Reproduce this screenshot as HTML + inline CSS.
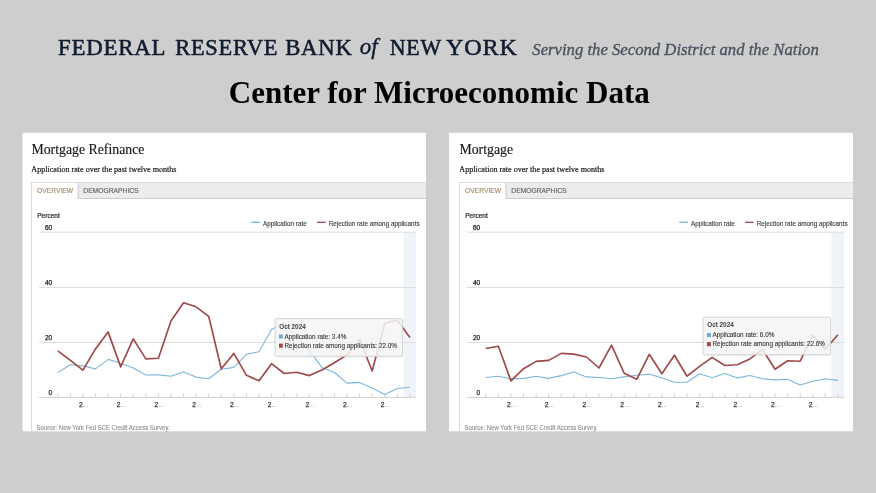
<!DOCTYPE html>
<html><head><meta charset="utf-8"><title>Center for Microeconomic Data</title>
<style>
html,body{margin:0;padding:0;background:#cecece;}
body{width:876px;height:493px;overflow:hidden;}
svg{display:block;will-change:transform;}
text{font-family:"Liberation Sans",sans-serif;}
.fr{font-family:"Liberation Serif",serif;font-size:23px;letter-spacing:0.8px;fill:#101c30;stroke:#101c30;stroke-width:0.55px;}
.fri{font-family:"Liberation Serif",serif;font-style:italic;font-size:23px;fill:#101c30;stroke:#101c30;stroke-width:0.45px;}
.srv{font-family:"Liberation Serif",serif;font-style:italic;font-size:16.7px;fill:#4a5460;stroke:#4a5460;stroke-width:0.35px;}
.cmd{font-family:"Liberation Serif",serif;font-weight:bold;font-size:31px;fill:#000;}
.ttl{font-family:"Liberation Serif",serif;font-size:13.8px;fill:#1a1a1a;stroke:#1a1a1a;stroke-width:0.15px;}
.sub{font-family:"Liberation Serif",serif;font-size:8.1px;fill:#1a1a1a;stroke:#1a1a1a;stroke-width:0.2px;}
.tab{font-size:7.2px;stroke-width:0.15px;}
.pct{font-size:6.7px;fill:#222;stroke:#222;stroke-width:0.2px;}
.yl{font-size:6.5px;fill:#222;stroke:#222;stroke-width:0.25px;}
.xl{font-size:6.6px;fill:#333;stroke:#333;stroke-width:0.25px;}
.lg{font-size:6.8px;fill:#444;stroke:#444;stroke-width:0.15px;}
.tt{font-size:6.36px;fill:#3a3a3a;stroke:#3a3a3a;stroke-width:0.12px;}
.src{font-size:6.3px;fill:#8a8a8a;stroke:#8a8a8a;stroke-width:0.1px;}
</style></head>
<body><svg width="876" height="493" viewBox="0 0 876 493">
<rect width="876" height="493" fill="#cecece"/>
<text x="58.0" y="54.6" class="fr" textLength="108.3" lengthAdjust="spacingAndGlyphs">FEDERAL</text>
<text x="175.2" y="54.6" class="fr" textLength="103.1" lengthAdjust="spacingAndGlyphs">RESERVE</text>
<text x="285.2" y="54.6" class="fr" textLength="67.5" lengthAdjust="spacingAndGlyphs">BANK</text>
<text x="389.8" y="54.6" class="fr" textLength="52.0" lengthAdjust="spacingAndGlyphs">NEW</text>
<text x="446.0" y="54.6" class="fr" textLength="71.8" lengthAdjust="spacingAndGlyphs">YORK</text>
<text x="359.8" y="54.3" class="fri">of</text>
<text x="532.3" y="54.7" class="srv">Serving the Second District and the Nation</text>
<text x="439.3" y="102.5" class="cmd" text-anchor="middle">Center for Microeconomic Data</text>
<rect x="22.5" y="132.8" width="403.5" height="298.5" fill="#fff"/>
<text x="31.4" y="153.8" class="ttl">Mortgage Refinance</text>
<text x="31.3" y="171.5" class="sub">Application rate over the past twelve months</text>
<rect x="78" y="182.4" width="348" height="16.1" fill="#ececec"/>
<path d="M31.5 431.2V182.5H426" fill="none" stroke="#dadada" stroke-width="1"/>
<path d="M78 182.5V198.5H426" fill="none" stroke="#cccccc" stroke-width="1"/>
<text x="37" y="192.8" class="tab" fill="#a58d68" stroke="#a58d68" stroke-width="0.05" textLength="36.2" lengthAdjust="spacingAndGlyphs">OVERVIEW</text>
<text x="83.3" y="192.8" class="tab" fill="#636363" stroke="#636363" textLength="55.3" lengthAdjust="spacingAndGlyphs">DEMOGRAPHICS</text>
<text x="37.2" y="217.8" class="pct" textLength="22.6" lengthAdjust="spacingAndGlyphs">Percent</text>
<rect x="403.6" y="232.2" width="12.7" height="165.2" fill="#f0f3f9"/>
<line x1="39" x2="416.3" y1="232.2" y2="232.2" stroke="#dcdcdc" stroke-width="1"/>
<line x1="39" x2="416.3" y1="287.4" y2="287.4" stroke="#dcdcdc" stroke-width="1"/>
<line x1="39" x2="416.3" y1="342.5" y2="342.5" stroke="#dcdcdc" stroke-width="1"/>
<text x="52.2" y="229.6" class="yl" text-anchor="end">60</text>
<text x="52.2" y="284.8" class="yl" text-anchor="end">40</text>
<text x="52.2" y="339.9" class="yl" text-anchor="end">20</text>
<text x="52.2" y="394.8" class="yl" text-anchor="end">0</text>
<line x1="39" x2="416.3" y1="397.4" y2="397.4" stroke="#d0d0d0" stroke-width="1"/>
<path d="M57.80 393.2V397M70.38 393.2V397M82.95 393.2V397M95.52 393.2V397M108.10 393.2V397M120.67 393.2V397M133.25 393.2V397M145.82 393.2V397M158.40 393.2V397M170.97 393.2V397M183.55 393.2V397M196.12 393.2V397M208.70 393.2V397M221.27 393.2V397M233.85 393.2V397M246.43 393.2V397M259.00 393.2V397M271.57 393.2V397M284.15 393.2V397M296.72 393.2V397M309.30 393.2V397M321.88 393.2V397M334.45 393.2V397M347.02 393.2V397M359.60 393.2V397M372.18 393.2V397M384.75 393.2V397M397.32 393.2V397M409.90 393.2V397" stroke="#d4d4d4" stroke-width="1"/>
<text x="79.05" y="406.9" class="xl">2<tspan style="fill:#3a3a3a;stroke:none;font-size:5.6px">…</tspan></text>
<text x="116.77" y="406.9" class="xl">2<tspan style="fill:#3a3a3a;stroke:none;font-size:5.6px">…</tspan></text>
<text x="154.50" y="406.9" class="xl">2<tspan style="fill:#3a3a3a;stroke:none;font-size:5.6px">…</tspan></text>
<text x="192.22" y="406.9" class="xl">2<tspan style="fill:#3a3a3a;stroke:none;font-size:5.6px">…</tspan></text>
<text x="229.95" y="406.9" class="xl">2<tspan style="fill:#3a3a3a;stroke:none;font-size:5.6px">…</tspan></text>
<text x="267.68" y="406.9" class="xl">2<tspan style="fill:#3a3a3a;stroke:none;font-size:5.6px">…</tspan></text>
<text x="305.40" y="406.9" class="xl">2<tspan style="fill:#3a3a3a;stroke:none;font-size:5.6px">…</tspan></text>
<text x="343.12" y="406.9" class="xl">2<tspan style="fill:#3a3a3a;stroke:none;font-size:5.6px">…</tspan></text>
<text x="380.85" y="406.9" class="xl">2<tspan style="fill:#3a3a3a;stroke:none;font-size:5.6px">…</tspan></text>
<line x1="251.2" x2="259.9" y1="222.3" y2="222.3" stroke="#7cb5dc" stroke-width="1.3"/>
<text x="263" y="225.6" class="lg" textLength="43.7" lengthAdjust="spacingAndGlyphs">Application rate</text>
<line x1="317" x2="325.7" y1="222.3" y2="222.3" stroke="#a84848" stroke-width="1.3"/>
<text x="328.7" y="225.6" class="lg" textLength="90.9" lengthAdjust="spacingAndGlyphs">Rejection rate among applicants</text>
<polyline points="57.80,372.60 70.38,364.70 82.95,365.90 95.52,368.90 108.10,359.40 120.67,363.20 133.25,368.10 145.82,375.00 158.40,374.90 170.97,376.30 183.55,371.90 196.12,377.10 208.70,378.80 221.27,369.20 233.85,367.40 246.43,354.30 259.00,351.80 271.57,329.50 284.15,322.20 296.72,336.30 309.30,350.40 321.88,367.40 334.45,372.50 347.02,383.10 359.60,382.40 372.18,388.10 384.75,394.50 397.32,388.50 409.90,387.20" fill="none" stroke="#7db6da" stroke-width="1.1" stroke-linejoin="round"/>
<polyline points="57.80,350.90 70.38,360.40 82.95,370.20 95.52,348.90 108.10,331.90 120.67,366.90 133.25,338.90 145.82,358.90 158.40,358.30 170.97,321.00 183.55,302.80 196.12,306.80 208.70,316.30 221.27,368.80 233.85,353.40 246.43,375.30 259.00,380.80 271.57,363.70 284.15,373.50 296.72,372.30 309.30,375.60 321.88,370.00 334.45,362.80 347.02,354.90 359.60,339.50 372.18,371.00 384.75,323.40 397.32,320.30 409.90,337.40" fill="none" stroke="#a04848" stroke-width="1.65" stroke-linejoin="round"/>
<rect x="275.6" y="319.7" width="127.5" height="37.6" rx="1.5" fill="#000" opacity="0.07"/>
<rect x="275.1" y="318.7" width="127.5" height="37.6" rx="1.5" fill="#f7f7f7" fill-opacity="0.85" stroke="#d2d2d2" stroke-width="1"/>
<text x="279.2" y="328.8" class="tt" font-weight="bold" style="fill:#4a4a4a;stroke:#4a4a4a;stroke-width:0.05px">Oct 2024</text>
<rect x="279" y="334.5" width="3.8" height="4.1" fill="#6aaad6"/>
<text x="284.5" y="338.6" class="tt">Application rate: 3.4%</text>
<rect x="279" y="343.6" width="3.8" height="4.1" fill="#a54545"/>
<text x="284.5" y="347.7" class="tt">Rejection rate among applicants: 22.0%</text>
<text x="36.6" y="429.7" class="src" textLength="133" lengthAdjust="spacingAndGlyphs">Source: New York Fed SCE Credit Access Survey.</text>
<rect x="449" y="132.8" width="404" height="298.5" fill="#fff"/>
<text x="459.4" y="153.8" class="ttl">Mortgage</text>
<text x="459.3" y="171.5" class="sub">Application rate over the past twelve months</text>
<rect x="506" y="182.4" width="347" height="16.1" fill="#ececec"/>
<path d="M459.5 431.2V182.5H853" fill="none" stroke="#dadada" stroke-width="1"/>
<path d="M506 182.5V198.5H853" fill="none" stroke="#cccccc" stroke-width="1"/>
<text x="465" y="192.8" class="tab" fill="#a58d68" stroke="#a58d68" stroke-width="0.05" textLength="36.2" lengthAdjust="spacingAndGlyphs">OVERVIEW</text>
<text x="511.3" y="192.8" class="tab" fill="#636363" stroke="#636363" textLength="55.3" lengthAdjust="spacingAndGlyphs">DEMOGRAPHICS</text>
<text x="465.2" y="217.8" class="pct" textLength="22.6" lengthAdjust="spacingAndGlyphs">Percent</text>
<rect x="831.6" y="232.2" width="12.7" height="165.2" fill="#f0f3f9"/>
<line x1="467" x2="844.3" y1="232.2" y2="232.2" stroke="#dcdcdc" stroke-width="1"/>
<line x1="467" x2="844.3" y1="287.4" y2="287.4" stroke="#dcdcdc" stroke-width="1"/>
<line x1="467" x2="844.3" y1="342.5" y2="342.5" stroke="#dcdcdc" stroke-width="1"/>
<text x="480.2" y="229.6" class="yl" text-anchor="end">60</text>
<text x="480.2" y="284.8" class="yl" text-anchor="end">40</text>
<text x="480.2" y="339.9" class="yl" text-anchor="end">20</text>
<text x="480.2" y="394.8" class="yl" text-anchor="end">0</text>
<line x1="467" x2="844.3" y1="397.4" y2="397.4" stroke="#d0d0d0" stroke-width="1"/>
<path d="M485.80 393.2V397M498.38 393.2V397M510.95 393.2V397M523.52 393.2V397M536.10 393.2V397M548.67 393.2V397M561.25 393.2V397M573.83 393.2V397M586.40 393.2V397M598.98 393.2V397M611.55 393.2V397M624.12 393.2V397M636.70 393.2V397M649.27 393.2V397M661.85 393.2V397M674.42 393.2V397M687.00 393.2V397M699.58 393.2V397M712.15 393.2V397M724.73 393.2V397M737.30 393.2V397M749.88 393.2V397M762.45 393.2V397M775.02 393.2V397M787.60 393.2V397M800.17 393.2V397M812.75 393.2V397M825.33 393.2V397M837.90 393.2V397" stroke="#d4d4d4" stroke-width="1"/>
<text x="507.05" y="406.9" class="xl">2<tspan style="fill:#3a3a3a;stroke:none;font-size:5.6px">…</tspan></text>
<text x="544.77" y="406.9" class="xl">2<tspan style="fill:#3a3a3a;stroke:none;font-size:5.6px">…</tspan></text>
<text x="582.50" y="406.9" class="xl">2<tspan style="fill:#3a3a3a;stroke:none;font-size:5.6px">…</tspan></text>
<text x="620.23" y="406.9" class="xl">2<tspan style="fill:#3a3a3a;stroke:none;font-size:5.6px">…</tspan></text>
<text x="657.95" y="406.9" class="xl">2<tspan style="fill:#3a3a3a;stroke:none;font-size:5.6px">…</tspan></text>
<text x="695.68" y="406.9" class="xl">2<tspan style="fill:#3a3a3a;stroke:none;font-size:5.6px">…</tspan></text>
<text x="733.40" y="406.9" class="xl">2<tspan style="fill:#3a3a3a;stroke:none;font-size:5.6px">…</tspan></text>
<text x="771.12" y="406.9" class="xl">2<tspan style="fill:#3a3a3a;stroke:none;font-size:5.6px">…</tspan></text>
<text x="808.85" y="406.9" class="xl">2<tspan style="fill:#3a3a3a;stroke:none;font-size:5.6px">…</tspan></text>
<line x1="679.2" x2="687.9" y1="222.3" y2="222.3" stroke="#7cb5dc" stroke-width="1.3"/>
<text x="691" y="225.6" class="lg" textLength="43.7" lengthAdjust="spacingAndGlyphs">Application rate</text>
<line x1="745" x2="753.7" y1="222.3" y2="222.3" stroke="#a84848" stroke-width="1.3"/>
<text x="756.7" y="225.6" class="lg" textLength="90.9" lengthAdjust="spacingAndGlyphs">Rejection rate among applicants</text>
<polyline points="485.80,377.50 498.38,376.20 510.95,378.90 523.52,378.40 536.10,376.20 548.67,378.40 561.25,375.60 573.83,372.00 586.40,376.90 598.98,377.50 611.55,378.70 624.12,376.90 636.70,375.30 649.27,374.10 661.85,378.10 674.42,382.30 687.00,382.30 699.58,373.80 712.15,377.70 724.73,373.60 737.30,377.90 749.88,375.50 762.45,378.70 775.02,379.90 787.60,379.20 800.17,385.00 812.75,381.30 825.33,378.70 837.90,380.40" fill="none" stroke="#7db6da" stroke-width="1.1" stroke-linejoin="round"/>
<polyline points="485.80,348.50 498.38,346.20 510.95,380.90 523.52,368.70 536.10,361.40 548.67,360.40 561.25,353.40 573.83,354.10 586.40,357.00 598.98,368.00 611.55,345.20 624.12,373.20 636.70,379.30 649.27,354.30 661.85,373.80 674.42,355.30 687.00,376.20 699.58,366.30 712.15,357.40 724.73,365.50 737.30,364.80 749.88,358.90 762.45,349.30 775.02,369.30 787.60,360.80 800.17,361.20 812.75,335.20 825.33,349.30 837.90,334.70" fill="none" stroke="#a04848" stroke-width="1.65" stroke-linejoin="round"/>
<rect x="703.6" y="318.2" width="127.5" height="37.6" rx="1.5" fill="#000" opacity="0.07"/>
<rect x="703.1" y="317.2" width="127.5" height="37.6" rx="1.5" fill="#f7f7f7" fill-opacity="0.85" stroke="#d2d2d2" stroke-width="1"/>
<text x="707.2" y="327.3" class="tt" font-weight="bold" style="fill:#4a4a4a;stroke:#4a4a4a;stroke-width:0.05px">Oct 2024</text>
<rect x="707" y="333.0" width="3.8" height="4.1" fill="#6aaad6"/>
<text x="712.5" y="337.1" class="tt">Application rate: 6.0%</text>
<rect x="707" y="342.1" width="3.8" height="4.1" fill="#a54545"/>
<text x="712.5" y="346.2" class="tt">Rejection rate among applicants: 22.6%</text>
<text x="464.6" y="429.7" class="src" textLength="133" lengthAdjust="spacingAndGlyphs">Source: New York Fed SCE Credit Access Survey.</text>
</svg></body></html>
